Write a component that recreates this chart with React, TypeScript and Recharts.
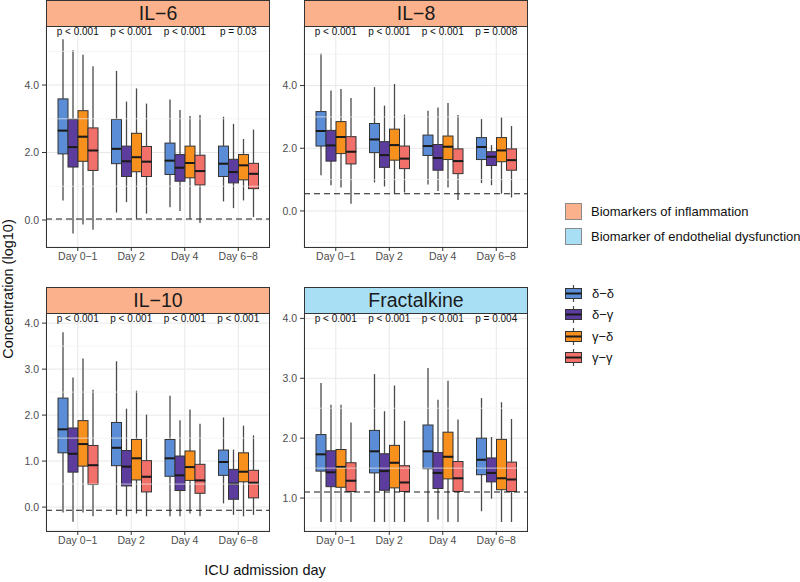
import React from "react";
import { ComposedChart, Bar, XAxis, YAxis, CartesianGrid, ReferenceLine, ReferenceDot } from "recharts";

const DAYS = ["Day 0−1", "Day 2", "Day 4", "Day 6−8"];
const GROUPS = ["δ−δ", "δ−γ", "γ−δ", "γ−γ"];
const GROUP_KEYS = ["dd", "dg", "gd", "gg"];
const COLORS = ["#5B8DD6", "#5C3D9E", "#F8901E", "#F2706A"];

const FILL_LABELS = ["Biomarkers of inflammation", "Biomarker of endothelial dysfunction"];
const FILL_COLORS = ["#FBB28C", "#A9DFF4"];

// [min, q1, median, q3, max] for each day
const IL6_DD = [[0.58, 1.96, 2.65, 3.59, 5.36], [0.22, 1.67, 2.11, 2.98, 4.42], [0.38, 1.35, 1.76, 2.28, 3.57], [0.55, 1.29, 1.67, 2.19, 3.06]];
const IL6_DG = [[-0.4, 1.57, 2.16, 2.99, 5.03], [0.53, 1.29, 1.74, 2.19, 3.51], [0.27, 1.15, 1.55, 1.94, 3.26], [0.35, 1.1, 1.42, 1.8, 2.85]];
const IL6_GD = [[-0.13, 1.74, 2.47, 3.24, 4.9], [0.04, 1.43, 1.86, 2.57, 3.9], [0.04, 1.25, 1.69, 2.19, 3.08], [0.58, 1.19, 1.62, 1.94, 2.4]];
const IL6_GG = [[-0.29, 1.47, 2.06, 2.73, 4.56], [0.19, 1.29, 1.73, 2.18, 3.45], [-0.09, 1.04, 1.45, 1.92, 3.11], [0.09, 0.93, 1.37, 1.68, 2.68]];

const IL8_DD = [[1.14, 2.07, 2.55, 3.17, 5.02], [0.91, 1.86, 2.28, 2.79, 3.95], [0.84, 1.77, 2.07, 2.42, 3.2], [0.89, 1.64, 2.04, 2.34, 2.93]];
const IL8_DG = [[0.82, 1.59, 2.09, 2.57, 3.84], [0.78, 1.39, 1.78, 2.21, 3.36], [0.64, 1.3, 1.69, 2.12, 3.3], [0.82, 1.45, 1.73, 1.89, 2.1]];
const IL8_GD = [[0.75, 1.83, 2.36, 2.85, 3.89], [0.55, 1.62, 2.1, 2.61, 4.05], [0.75, 1.64, 2.05, 2.39, 3.44], [0.55, 1.57, 1.93, 2.34, 2.98]];
const IL8_GG = [[0.23, 1.5, 1.89, 2.37, 3.6], [0.59, 1.35, 1.67, 2.07, 3.07], [0.35, 1.19, 1.59, 1.98, 3.06], [0.43, 1.3, 1.62, 1.98, 2.71]];

const IL10_DD = [[-0.12, 1.18, 1.69, 2.37, 3.8], [-0.17, 0.9, 1.29, 1.84, 3.17], [-0.2, 0.67, 1.06, 1.47, 2.42], [0.08, 0.69, 0.98, 1.24, 1.95]];
const IL10_DG = [[-0.32, 0.76, 1.16, 1.72, 2.82], [-0.2, 0.46, 0.88, 1.23, 2.14], [-0.2, 0.36, 0.69, 1.11, 1.89], [-0.17, 0.17, 0.51, 0.82, 1.25]];
const IL10_GD = [[-0.12, 0.89, 1.37, 1.88, 3.23], [-0.14, 0.59, 1.06, 1.47, 2.53], [-0.14, 0.58, 0.87, 1.22, 2.12], [-0.2, 0.55, 0.77, 1.18, 1.77]];
const IL10_GG = [[-0.2, 0.49, 0.91, 1.34, 2.55], [-0.2, 0.33, 0.66, 1.01, 2.01], [-0.2, 0.3, 0.58, 0.93, 1.81], [-0.17, 0.2, 0.53, 0.8, 1.56]];

const FKN_DD = [[0.6, 1.45, 1.73, 2.06, 2.92], [0.6, 1.42, 1.78, 2.13, 3.07], [0.6, 1.49, 1.78, 2.22, 3.17], [0.78, 1.39, 1.64, 2.0, 2.67]];
const FKN_DG = [[0.6, 1.19, 1.43, 1.79, 2.56], [0.6, 1.13, 1.45, 1.74, 2.45], [0.64, 1.16, 1.42, 1.76, 2.64], [0.99, 1.27, 1.42, 1.67, 2.02]];
const FKN_GD = [[0.6, 1.18, 1.52, 1.81, 2.56], [0.6, 1.17, 1.59, 1.88, 2.88], [0.6, 1.32, 1.69, 2.1, 2.96], [0.6, 1.14, 1.33, 1.98, 2.6]];
const FKN_GG = [[0.6, 1.11, 1.29, 1.59, 2.26], [0.6, 1.11, 1.26, 1.54, 2.29], [0.6, 1.11, 1.33, 1.61, 2.31], [0.6, 1.11, 1.31, 1.6, 2.32]];

const IL6_P = ["p < 0.001", "p < 0.001", "p < 0.001", "p = 0.03"];
const IL8_P = ["p < 0.001", "p < 0.001", "p < 0.001", "p = 0.008"];
const IL10_P = ["p < 0.001", "p < 0.001", "p < 0.001", "p < 0.001"];
const FKN_P = ["p < 0.001", "p < 0.001", "p < 0.001", "p = 0.004"];

const FONT = "'Liberation Sans', Arial, Helvetica, sans-serif";
const PLOT_W = 224;
const YAXIS_W = 46;
const STRIP_H = 27;

const panels = [
  { title: "IL−6", strip: FILL_COLORS[0], stats: [IL6_DD, IL6_DG, IL6_GD, IL6_GG], pvals: IL6_P, lod: 0.03,
    domain: [-0.8, 5.75], ticks: [0, 2, 4], minor: [1, 3, 5], left: 46, top: 26, h: 221 },
  { title: "IL−8", strip: FILL_COLORS[0], stats: [IL8_DD, IL8_DG, IL8_GD, IL8_GG], pvals: IL8_P, lod: 0.55,
    domain: [-1.15, 5.9], ticks: [0, 2, 4], minor: [-1, 1, 3, 5], left: 304, top: 26, h: 221 },
  { title: "IL−10", strip: FILL_COLORS[0], stats: [IL10_DD, IL10_DG, IL10_GD, IL10_GG], pvals: IL10_P, lod: -0.07,
    domain: [-0.52, 4.22], ticks: [0, 1, 2, 3, 4], minor: [-0.5, 0.5, 1.5, 2.5, 3.5], left: 46, top: 313, h: 218 },
  { title: "Fractalkine", strip: FILL_COLORS[1], stats: [FKN_DD, FKN_DG, FKN_GD, FKN_GG], pvals: FKN_P, lod: 1.1,
    domain: [0.45, 4.09], ticks: [1, 2, 3, 4], minor: [0.5, 1.5, 2.5, 3.5], left: 304, top: 313, h: 218 },
];

const Whisker = (props: any) => {
  const { x, y, width, height } = props;
  const cx = x + width / 2;
  return <line x1={cx} x2={cx} y1={y} y2={y + height} stroke="#4a4a4a" strokeWidth={1.3} />;
};

const LowerBox = (props: any) => {
  const { x, y, width, height, fill } = props;
  return <rect x={x} y={y} width={width} height={height} fill={fill} stroke="#333" strokeWidth={1} />;
};

const UpperBox = (props: any) => {
  const { x, y, width, height, fill } = props;
  return (
    <g>
      <rect x={x} y={y} width={width} height={height} fill={fill} stroke="#333" strokeWidth={1} />
      <line x1={x} x2={x + width} y1={y + height} y2={y + height} stroke="#1a1a1a" strokeWidth={2} />
    </g>
  );
};

const Empty = () => <g />;

function Panel({ p }: { p: any }) {
  const rows = DAYS.map((day, i) => {
    const r: any = { day };
    p.stats.forEach((s: number[][], g: number) => {
      const [mn, q1, md, q3, mx] = s[i];
      const k = GROUP_KEYS[g];
      r[k + "0"] = mn;
      r[k + "1"] = q1 - mn;
      r[k + "2"] = md - q1;
      r[k + "3"] = q3 - md;
      r[k + "4"] = mx - q3;
    });
    return r;
  });

  const shapes = [Empty, Whisker, LowerBox, UpperBox, Whisker];

  return (
    <div style={{ position: "absolute", left: p.left - YAXIS_W, top: p.top }}>
      <div
        style={{
          position: "absolute", left: YAXIS_W, top: -STRIP_H + 1, width: PLOT_W, height: STRIP_H,
          boxSizing: "border-box", background: p.strip, border: "1px solid #333",
          fontSize: 19.5, lineHeight: `${STRIP_H - 2}px`, textAlign: "center", color: "#1a1a1a",
        }}
      >
        {p.title}
      </div>
      <ComposedChart
        width={YAXIS_W + PLOT_W}
        height={p.h + 22}
        data={rows}
        margin={{ top: 0, right: 0, bottom: 0, left: 0 }}
        barGap={0}
        barSize={10}
      >
        <CartesianGrid stroke="#E8E8E8" strokeWidth={1} />
        {p.minor.map((v: number) => (
          <ReferenceLine key={v} y={v} stroke="#F1F1F1" strokeWidth={0.7} />
        ))}
        <XAxis
          dataKey="day"
          interval={0}
          padding={{ left: 5, right: 5 }}
          tickSize={4}
          tickLine={{ stroke: "#333" }}
          axisLine={false}
          height={22}
          tick={{ fill: "#4D4D4D", fontSize: 10.5, fontFamily: FONT }}
        />
        <YAxis
          type="number"
          domain={p.domain}
          ticks={p.ticks}
          allowDataOverflow
          width={YAXIS_W}
          tickSize={4}
          tickMargin={3}
          tickLine={{ stroke: "#333" }}
          axisLine={false}
          tick={{ fill: "#4D4D4D", fontSize: 10.5, fontFamily: FONT }}
          tickFormatter={(v: number) => v.toFixed(1)}
        />
        {GROUP_KEYS.map((k, g) =>
          [0, 1, 2, 3, 4].map((j) => (
            <Bar
              key={k + j}
              dataKey={k + j}
              stackId={k}
              fill={j === 0 ? "none" : COLORS[g]}
              shape={shapes[j]}
              isAnimationActive={false}
            />
          ))
        )}
        <ReferenceLine y={p.lod} stroke="#1a1a1a" strokeDasharray="6 4" strokeWidth={1.1} />
        {DAYS.map((day, i) => (
          <ReferenceDot
            key={day}
            x={day}
            y={p.domain[1]}
            r={0}
            fill="none"
            stroke="none"
            ifOverflow="visible"
            label={{ value: p.pvals[i], position: "bottom", offset: 2, fontSize: 10, fontFamily: FONT, fill: "#111" }}
          />
        ))}
      </ComposedChart>
      <div
        style={{
          position: "absolute", left: YAXIS_W, top: 0, width: PLOT_W, height: p.h + 1,
          boxSizing: "border-box", border: "1px solid #333", pointerEvents: "none",
        }}
      />
    </div>
  );
}

function BoxKey({ color }: { color: string }) {
  return (
    <svg width={17} height={17} style={{ display: "block" }}>
      <line x1={8.5} x2={8.5} y1={0} y2={17} stroke="#4a4a4a" strokeWidth={1.2} />
      <rect x={0.5} y={3.5} width={16} height={10} fill={color} stroke="#333" strokeWidth={1} />
      <line x1={0.5} x2={16.5} y1={8.5} y2={8.5} stroke="#1a1a1a" strokeWidth={2} />
    </svg>
  );
}

export default function App() {
  return (
    <div
      style={{
        position: "absolute", left: 0, top: 0, width: 800, height: 582,
        background: "#fff", fontFamily: FONT, overflow: "hidden",
      }}
    >
      {panels.map((p) => (
        <Panel key={p.title} p={p} />
      ))}

      <div
        style={{
          position: "absolute", left: 8, top: 289, transform: "translate(-50%, -50%) rotate(-90deg)",
          whiteSpace: "nowrap", fontSize: 14.5, color: "#111",
        }}
      >
        Concentration (log10)
      </div>
      <div
        style={{
          position: "absolute", left: 265, top: 570, transform: "translate(-50%, -50%)",
          whiteSpace: "nowrap", fontSize: 14.5, color: "#111",
        }}
      >
        ICU admission day
      </div>

      {FILL_LABELS.map((lab, i) => (
        <div key={lab} style={{ position: "absolute", left: 565, top: 203 + i * 25, display: "flex", alignItems: "center" }}>
          <div style={{ width: 17, height: 17, boxSizing: "border-box", background: FILL_COLORS[i], border: "1px solid #8a8a8a" }} />
          <span style={{ marginLeft: 9, fontSize: 13, color: "#111", whiteSpace: "nowrap" }}>{lab}</span>
        </div>
      ))}

      {GROUPS.map((lab, i) => (
        <div key={lab} style={{ position: "absolute", left: 565, top: 285 + i * 21.3, display: "flex", alignItems: "center" }}>
          <BoxKey color={COLORS[i]} />
          <span style={{ marginLeft: 10, fontSize: 13, color: "#111", whiteSpace: "nowrap" }}>{lab}</span>
        </div>
      ))}
    </div>
  );
}
